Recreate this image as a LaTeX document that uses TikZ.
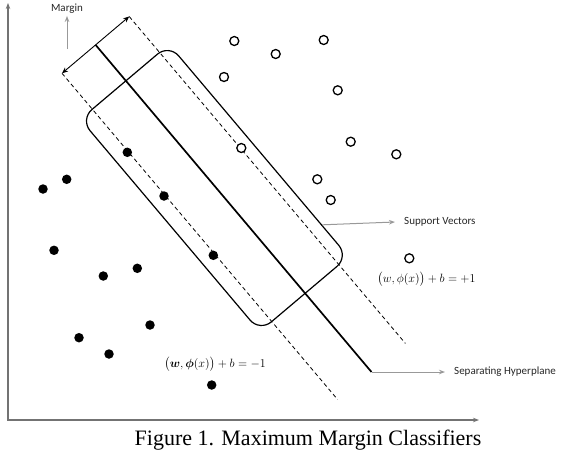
\documentclass[tikz,border=0pt]{standalone}
\usepackage{amsmath}
\usepackage[no-math]{fontspec}
\setmainfont{Carlito}
\newfontfamily\capfont{Liberation Serif}
\usetikzlibrary{arrows.meta}
\begin{document}
\begin{tikzpicture}[x=1pt,y=-1pt,
  axis/.style={draw=black!55, line width=1.5pt},
  hyper/.style={draw=black, line width=1.7pt},
  marginline/.style={draw=black, line width=0.8pt, dash pattern=on 4pt off 3pt},
  svbox/.style={draw=black, line width=1.2pt, rounded corners=15pt, minimum width=278pt, minimum height=116pt, inner sep=0pt},
  negdot/.style={circle, fill=black, inner sep=0pt, minimum size=9.5pt},
  posdot/.style={circle, draw=black, fill=white, line width=1.3pt, inner sep=0pt, minimum size=9pt},
  lbl/.style={font=\fontsize{11}{13}\selectfont, text=black!85, inner xsep=9pt, inner ysep=2pt},
  eq/.style={font=\fontsize{12}{14}\selectfont, inner sep=0pt},
  grayarrow/.style={draw=black!40, line width=1pt, -{Stealth[length=6pt,width=4.5pt]}}
]
\useasboundingbox (0,0) rectangle (572,456);
% axes
\coordinate (ytop) at (8,3);
\coordinate (orig) at (8,420);
\coordinate (xend) at (479,420);
\draw[axis, {Stealth[length=6pt,width=4.5pt]}-{Stealth[length=6pt,width=4.5pt]}] (ytop) -- (orig) -- (xend);
% margin lines
\coordinate (la) at (62,73.3);
\coordinate (ua) at (129.2,16.5);
\coordinate (lb) at (337.6,399.5);
\coordinate (ub) at (405.4,343.4);
\coordinate (ha) at (95.6,44.9);
\coordinate (hb) at (371.5,372);
\draw[marginline] (la) -- (lb);
\draw[marginline] (ua) -- (ub);
\draw[hyper] (ha) -- (hb);
\draw[black, line width=0.9pt, {Stealth[length=6pt,width=5pt]}-{Stealth[length=6pt,width=5pt]}] (la) -- (ua);
% support vector box
\node[svbox, rotate=-49.8] (box) at (214.4,188) {};
% labels
\node[lbl, inner xsep=2pt] (mg) at (67,9) {Margin};
\coordinate (mgs) at (67,49);
\draw[grayarrow] (mgs) -- (mg.south);
\path (box.north west) -- (box.north east) coordinate[pos=0.85] (svs);
\node[lbl, anchor=west] (sv) at (395,222) {Support Vectors};
\draw[grayarrow] (svs) -- (sv.west);
\node[lbl, anchor=west] (sh) at (445,372) {Separating Hyperplane};
\draw[grayarrow] (hb) -- (sh.west);
\node[eq] (eqp) at (426.5,279) {$\big(w,\phi(x)\big)+b=+1$};
\node[eq] (eqm) at (215,364) {$\big(\boldsymbol{w},\boldsymbol{\phi}(x)\big)+b=-1$};
% negative points
\node[negdot] (n1) at (127.3,152.3) {};
\node[negdot] (n2) at (164,196) {};
\node[negdot] (n3) at (213.3,255.3) {};
\node[negdot] (n4) at (43,189) {};
\node[negdot] (n5) at (66.7,179.3) {};
\node[negdot] (n6) at (54,250.3) {};
\node[negdot] (n7) at (103.3,276) {};
\node[negdot] (n8) at (137.3,268.3) {};
\node[negdot] (n9) at (150,325) {};
\node[negdot] (n10) at (79,337.7) {};
\node[negdot] (n11) at (109,354) {};
\node[negdot] (n12) at (211.7,385) {};
% positive points
\node[posdot] (p1) at (234.3,41) {};
\node[posdot] (p2) at (275.7,54) {};
\node[posdot] (p3) at (323.7,40) {};
\node[posdot] (p4) at (224,77) {};
\node[posdot] (p5) at (337.7,90.3) {};
\node[posdot] (p6) at (241.3,148) {};
\node[posdot] (p7) at (350.7,141.7) {};
\node[posdot] (p8) at (396.3,154.3) {};
\node[posdot] (p9) at (317.3,179.3) {};
\node[posdot] (p10) at (330.7,200) {};
\node[posdot] (p11) at (409.3,258.3) {};
% caption
\node[font=\capfont\fontsize{22}{26}\selectfont, inner sep=0pt] (cap) at (308,440) {Figure 1. Maximum Margin Classifiers};
\end{tikzpicture}
\end{document}
